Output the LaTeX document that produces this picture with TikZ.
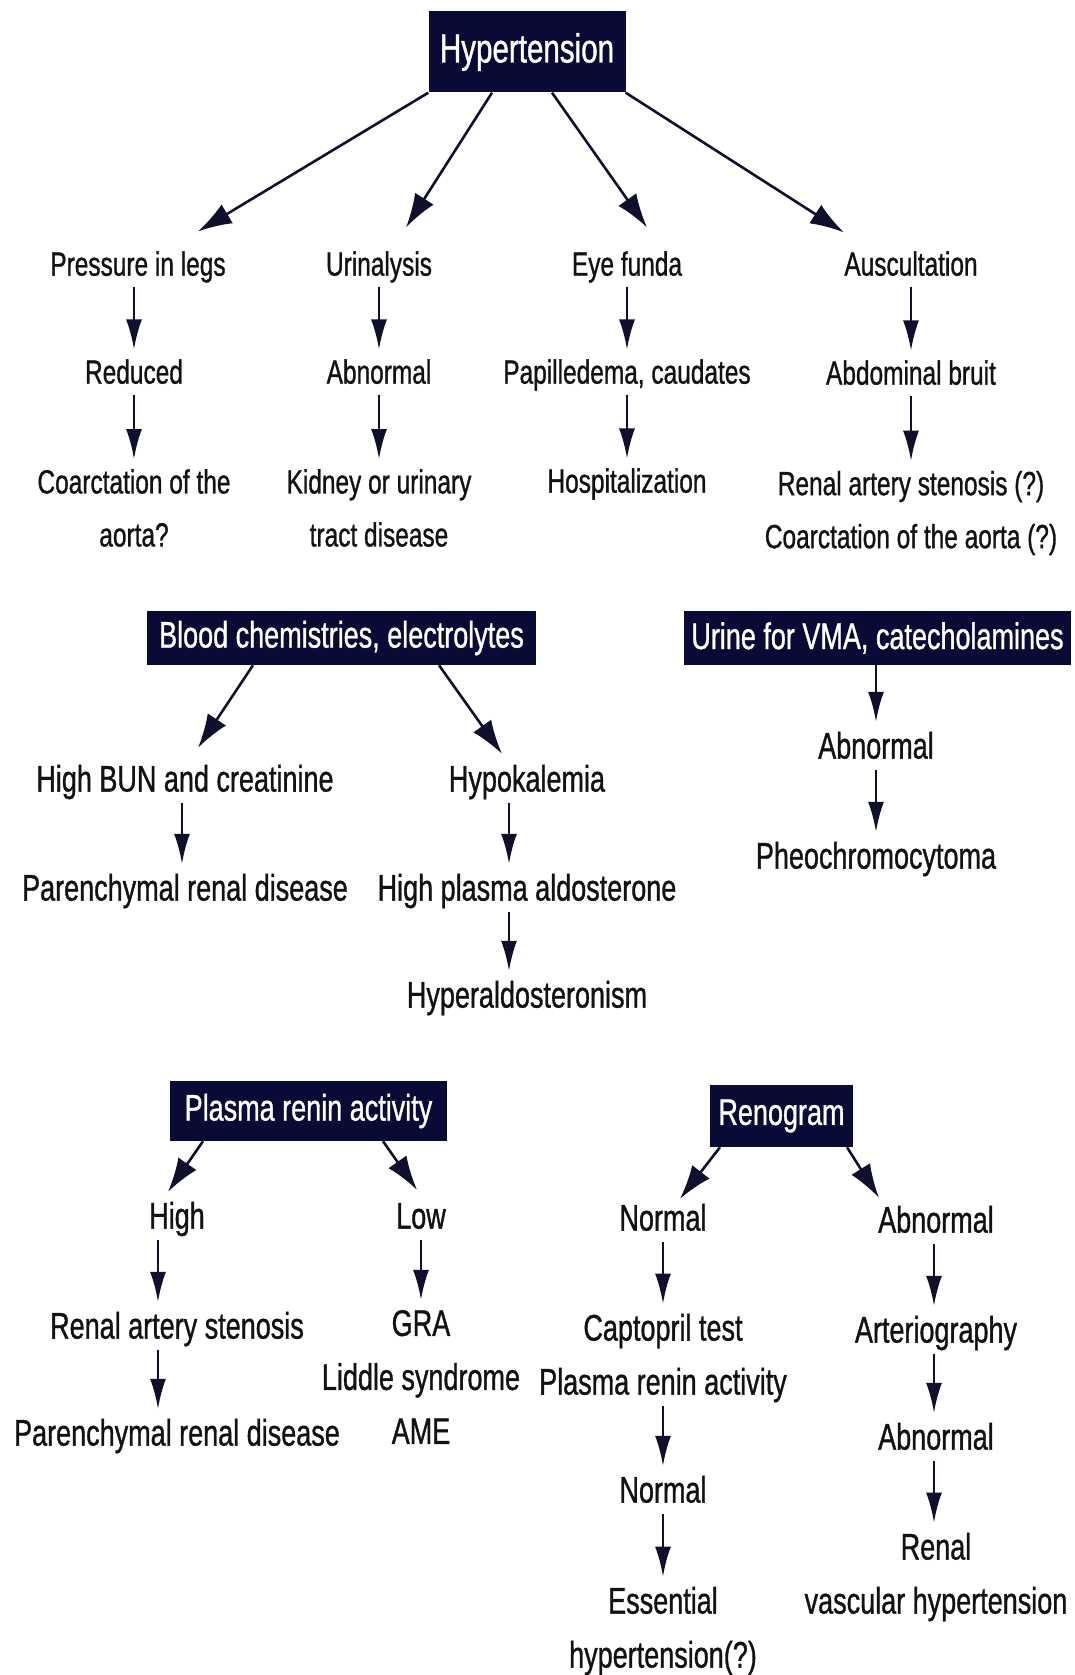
\documentclass[tikz,border=0pt]{standalone}
\usepackage{fontspec}
\setmainfont{Liberation Sans}[FakeStretch=0.73,FakeBold=0.9]
\usetikzlibrary{arrows.meta}
\definecolor{boxblue}{HTML}{0A0A36}
\definecolor{arrowink}{HTML}{10102C}
\definecolor{textgray}{HTML}{121212}
\tikzset{
	hbox/.style={fill=boxblue, text=white, inner sep=0pt, font=\fontsize{37}{54}\selectfont},
	lbl/.style={text=textgray, inner sep=0pt, align=center, font=\fontsize{37}{54}\selectfont},
	lbls/.style={text=textgray, inner sep=0pt, align=center, font=\fontsize{33.5}{53}\selectfont},
	one/.style={text height=26.6pt, text depth=7.4pt},
	ones/.style={text height=24pt, text depth=6.7pt},
	branch/.style={draw=arrowink, line width=2.6pt, -{Latex[length=34pt,width=22pt]}},
	down/.style={draw=arrowink, line width=2.4pt, -{Latex[length=30pt,width=16pt]}, shorten <=4pt, shorten >=10pt},
}
\begin{document}
\begin{tikzpicture}[x=1pt,y=-1pt]
	\useasboundingbox (0,0) rectangle (1075,1675);
	% top level
	\node[hbox, font=\fontsize{40.5}{54}\selectfont, minimum width=197pt, minimum height=81pt] (hyp) at (527,52) {Hypertension};
	\node[lbls,ones] (press) at (138,267) {Pressure in legs};
	\node[lbls,ones] (urin) at (379,267) {Urinalysis};
	\node[lbls,ones] (eye) at (627,267) {Eye funda};
	\node[lbls,ones] (ausc) at (911,267) {Auscultation};
	\node[lbls,ones] (red) at (134,375) {Reduced};
	\node[lbls,ones] (abna) at (379,375) {Abnormal};
	\node[lbls,ones] (pap) at (627,375) {Papilledema, caudates};
	\node[lbls,ones] (bruit) at (911,376) {Abdominal bruit};
	\node[lbls] (coarc) at (134,508) {Coarctation of the\\aorta?};
	\node[lbls] (kidney) at (379,508) {Kidney or urinary\\tract disease};
	\node[lbls,ones] (hosp) at (627,484) {Hospitalization};
	\node[lbls] (ras) at (911,513) {Renal artery stenosis (?)\\Coarctation of the aorta (?)};
	\draw[branch] (hyp.south west) -- ([xshift=60pt,yshift=20pt]press.north);
	\draw[branch] ([xshift=-35pt]hyp.south) -- ([xshift=27pt,yshift=24pt]urin.north);
	\draw[branch] ([xshift=25pt]hyp.south) -- ([xshift=20pt,yshift=24pt]eye.north);
	\draw[branch] (hyp.south east) -- ([xshift=-67pt,yshift=19pt]ausc.north);
	\draw[down] (press.south -| red) -- (red.north);
	\draw[down] (red) -- (coarc.north);
	\draw[down] (urin) -- (abna.north);
	\draw[down] (abna) -- (kidney.north);
	\draw[down] (eye) -- (pap.north);
	\draw[down] (pap) -- (hosp.north);
	\draw[down] (ausc) -- (bruit.north);
	\draw[down] (bruit) -- (ras.north);
	% blood and urine tests
	\node[hbox, minimum width=389pt, minimum height=54pt] (blood) at (341.5,638) {Blood chemistries, electrolytes};
	\node[hbox, minimum width=387pt, minimum height=54pt] (urine) at (877.5,638) {Urine for VMA, catecholamines};
	\node[lbl,one] (bun) at (185,782) {High BUN and creatinine};
	\node[lbl,one] (hypo) at (527,782) {Hypokalemia};
	\node[lbl,one] (pnra) at (185,891) {Parenchymal renal disease};
	\node[lbl,one] (hpa) at (527,891) {High plasma aldosterone};
	\node[lbl,one] (hald) at (527,998) {Hyperaldosteronism};
	\node[lbl,one] (abnb) at (876,749) {Abnormal};
	\node[lbl,one] (pheo) at (876,859) {Pheochromocytoma};
	\draw[branch] ([xshift=-88.5pt]blood.south) -- ([xshift=13pt,yshift=17pt]bun.north);
	\draw[branch] ([xshift=97.5pt]blood.south) -- ([xshift=-25pt,yshift=11pt]hypo.north);
	\draw[down] ([xshift=-3pt]bun.south) -- ([xshift=-3pt]pnra.north);
	\draw[down] ([xshift=-18pt]hypo.south) -- ([xshift=-18pt]hpa.north);
	\draw[down] ([xshift=-18pt]hpa.south) -- ([xshift=-18pt]hald.north);
	\draw[down, shorten <=0pt] (urine.south -| abnb) -- (abnb.north);
	\draw[down] (abnb) -- (pheo.north);
	% renin and renogram
	\node[hbox, minimum width=277pt, minimum height=60pt] (renin) at (308.5,1111) {Plasma renin activity};
	\node[hbox, minimum width=143pt, minimum height=62pt] (reno) at (781.5,1116) {Renogram};
	\node[lbl,one] (high) at (177,1219) {High};
	\node[lbl,one] (low) at (421,1219) {Low};
	\node[lbl,one] (norma) at (663,1221) {Normal};
	\node[lbl,one] (abnc) at (936,1223) {Abnormal};
	\node[lbl,one] (rasb) at (177,1329) {Renal artery stenosis};
	\node[lbl] (gra) at (421,1377) {GRA\\Liddle syndrome\\AME};
	\node[lbl] (capt) at (663,1358) {Captopril test\\Plasma renin activity};
	\node[lbl,one] (arter) at (936,1333) {Arteriography};
	\node[lbl,one] (pnrb) at (177,1436) {Parenchymal renal disease};
	\node[lbl,one] (normb) at (663,1493) {Normal};
	\node[lbl,one] (abnd) at (936,1440) {Abnormal};
	\node[lbl] (ess) at (663,1631) {Essential\\hypertension(?)};
	\node[lbl] (renal) at (936,1577) {Renal\\vascular hypertension};
	\draw[branch] ([xshift=-105.5pt]renin.south) -- ([xshift=-9pt,yshift=10pt]high.north);
	\draw[branch] ([xshift=74.5pt]renin.south) -- ([xshift=-4pt,yshift=12pt]low.north);
	\draw[branch] ([xshift=-61.5pt]reno.south) -- ([xshift=17pt,yshift=5pt]norma.north);
	\draw[branch] ([xshift=65.5pt]reno.south) -- ([xshift=-57pt,yshift=8pt]abnc.north);
	\draw[down] ([xshift=-19pt]high.south) -- ([xshift=-19pt]rasb.north);
	\draw[down] ([xshift=-19pt]rasb.south) -- ([xshift=-19pt]pnrb.north);
	\draw[down] (low) -- (gra.north);
	\draw[down] (norma) -- (capt.north);
	\draw[down] (capt) -- (normb.north);
	\draw[down] (normb) -- (ess.north);
	\draw[down] ([xshift=-2pt]abnc.south) -- ([xshift=-2pt]arter.north);
	\draw[down] ([xshift=-2pt]arter.south) -- ([xshift=-2pt]abnd.north);
	\draw[down] ([xshift=-2pt]abnd.south) -- ([xshift=-2pt]renal.north);
\end{tikzpicture}
\end{document}
